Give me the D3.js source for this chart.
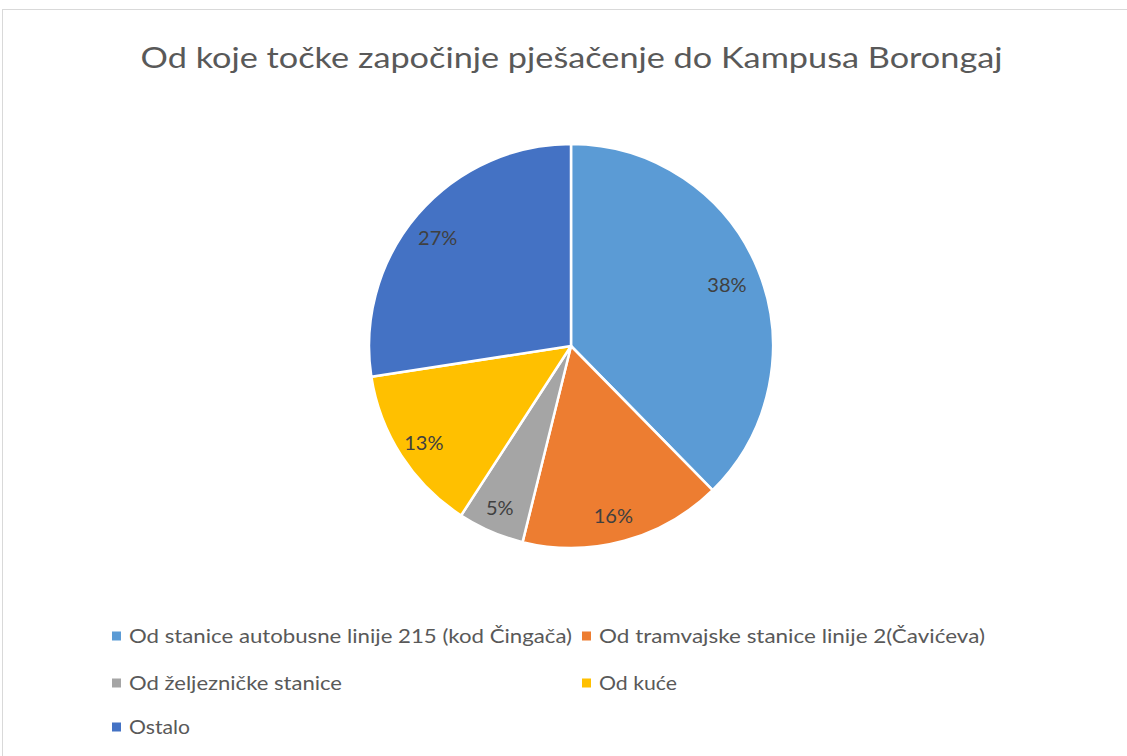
<!DOCTYPE html>
<html>
<head>
<meta charset="utf-8">
<script src="https://cdn.jsdelivr.net/npm/d3@7"></script>
<style>
  body { margin: 0; background: #fff; }
  svg { display: block; }
</style>
</head>
<body>
<script>
// Data
const categories = [
    "Od stanice autobusne linije 215 (kod Čingača)",
    "Od tramvajske stanice linije 2(Čavićeva)",
    "Od željezničke stanice",
    "Od kuće",
    "Ostalo"
];
const values = [37.6, 16.2, 5.3, 13.4, 27.4];
const colors = ["#5B9BD5", "#ED7D31", "#A5A5A5", "#FFC000", "#4472C4"];
const title = "Od koje točke započinje pješačenje do Kampusa Borongaj";

const width = 1127, height = 756;
const cx = 571, cy = 346, radius = 202;

const svg = d3.select("body")
    .append("svg")
    .attr("width", width)
    .attr("height", height);

// chart area border
svg.append("rect")
    .attr("x", 2.5)
    .attr("y", 9.5)
    .attr("width", width + 10)
    .attr("height", height + 10)
    .attr("fill", "#fff")
    .attr("stroke", "#D9D9D9")
    .attr("stroke-width", 1);

// Title
svg.append("text")
    .attr("x", 571.5)
    .attr("y", 68)
    .attr("text-anchor", "middle")
    .attr("font-family", "Lato, 'Open Sans', sans-serif")
    .attr("font-size", 28)
    .attr("fill", "#595959")
    .attr("textLength", 862)
    .attr("lengthAdjust", "spacingAndGlyphs")
    .text(title);

// Pie
const pie = d3.pie().sort(null).value(d => d);
const arcs = pie(values);
const total = d3.sum(values);

const arc = d3.arc().innerRadius(0).outerRadius(radius);
const labelArc = d3.arc().innerRadius(radius * 0.85).outerRadius(radius * 0.85);

const g = svg.append("g").attr("transform", `translate(${cx},${cy})`);

g.selectAll("path.slice")
    .data(arcs)
    .join("path")
    .attr("class", "slice")
    .attr("d", arc)
    .attr("fill", (d, i) => colors[i])
    .attr("stroke", "#fff")
    .attr("stroke-width", 2.5)
    .attr("stroke-linejoin", "round");

g.selectAll("text.label")
    .data(arcs)
    .join("text")
    .attr("class", "label")
    .attr("transform", d => {
        const [x, y] = labelArc.centroid(d);
        return `translate(${x - 3},${y + 4})`;
    })
    .attr("text-anchor", "middle")
    .attr("dy", "0.35em")
    .attr("font-family", "Lato, 'Open Sans', sans-serif")
    .attr("font-size", 20)
    .attr("fill", "#404040")
    .text(d => Math.round(d.value / total * 100) + "%");

// Legend
const legendPos = [
    { x: 112, y: 636, len: 443 },
    { x: 582, y: 636, len: 386 },
    { x: 112, y: 683, len: 213 },
    { x: 582, y: 683, len: 78 },
    { x: 112, y: 727, len: 61 }
];

const legend = svg.selectAll("g.legend")
    .data(categories)
    .join("g")
    .attr("class", "legend")
    .attr("transform", (d, i) => `translate(${legendPos[i].x},${legendPos[i].y})`);

legend.append("rect")
    .attr("x", 0)
    .attr("y", -4.5)
    .attr("width", 9)
    .attr("height", 9)
    .attr("fill", (d, i) => colors[i]);

legend.append("text")
    .attr("x", 17)
    .attr("y", 0)
    .attr("dy", "0.35em")
    .attr("font-family", "Lato, 'Open Sans', sans-serif")
    .attr("font-size", 19)
    .attr("fill", "#595959")
    .attr("textLength", (d, i) => legendPos[i].len)
    .attr("lengthAdjust", "spacingAndGlyphs")
    .text(d => d);
</script>
</body>
</html>
